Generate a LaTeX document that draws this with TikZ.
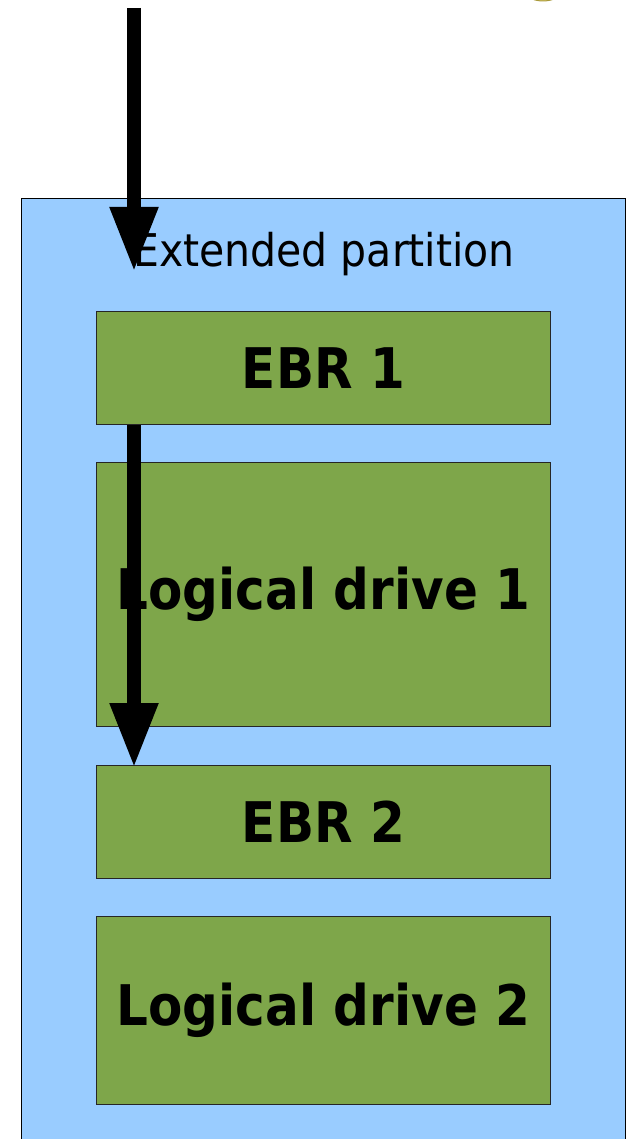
\documentclass[tikz,border=0pt]{standalone}
\usepackage{fontspec}
\usepackage{graphicx}
\setmainfont{DejaVu Sans}
\usetikzlibrary{arrows.meta}
\definecolor{partblue}{HTML}{99CCFF}
\definecolor{drivegreen}{HTML}{7EA64A}
\definecolor{discfill}{HTML}{E6D77A}
\definecolor{discline}{HTML}{A8983A}
\newcommand{\tallbold}[1]{\scalebox{1}[1.12]{\fontsize{50}{56}\selectfont\bfseries #1}}
\newcommand{\talltitle}[1]{\scalebox{1}[1.1]{\fontsize{41}{46}\selectfont #1}}
\tikzset{
  partbox/.style={draw=black, line width=0.8pt, fill=partblue, rectangle, inner sep=0pt},
  drivebox/.style={draw=black!85, line width=0.8pt, fill=drivegreen, rectangle,
    minimum width=454pt, inner sep=0pt},
  titletext/.style={inner sep=0pt},
  chainarrow/.style={line width=14pt, -{Triangle[length=65pt,width=45pt]}},
}
\begin{document}
\begin{tikzpicture}[x=1pt,y=-1pt]
  \useasboundingbox (0,0) rectangle (630,1139);
  \clip (0,0) rectangle (630,1139);
  % disc edge peeking in at the top
  \draw[fill=discfill, draw=discline, line width=1pt] (543,-14) ellipse [x radius=22, y radius=15];
  % extended partition container
  \node[partbox, minimum width=604pt, minimum height=960pt, anchor=north west] (ext) at (21,198) {};
  \node[titletext] (exttitle) at (324,254) {\talltitle{Extended partition}};
  % EBRs and logical drives
  \node[drivebox, minimum height=113pt, anchor=north west] (ebr1) at (96,311) {\tallbold{EBR 1}};
  \node[drivebox, minimum height=264pt, anchor=north west] (ld1) at (96,462) {\tallbold{Logical drive 1}};
  \node[drivebox, minimum height=113pt, anchor=north west] (ebr2) at (96,765) {\tallbold{EBR 2}};
  \node[drivebox, minimum height=188pt, anchor=north west] (ld2) at (96,916) {\tallbold{Logical drive 2}};
  % pointer chain
  \coordinate (mbrlink) at (134,8);
  \coordinate (extstart) at (134,272);
  \draw[chainarrow] (mbrlink) -- (extstart);
  \draw[chainarrow] ([xshift=38pt]ebr1.south west) -- ([xshift=38pt,yshift=-3pt]ebr2.north west);
\end{tikzpicture}
\end{document}
